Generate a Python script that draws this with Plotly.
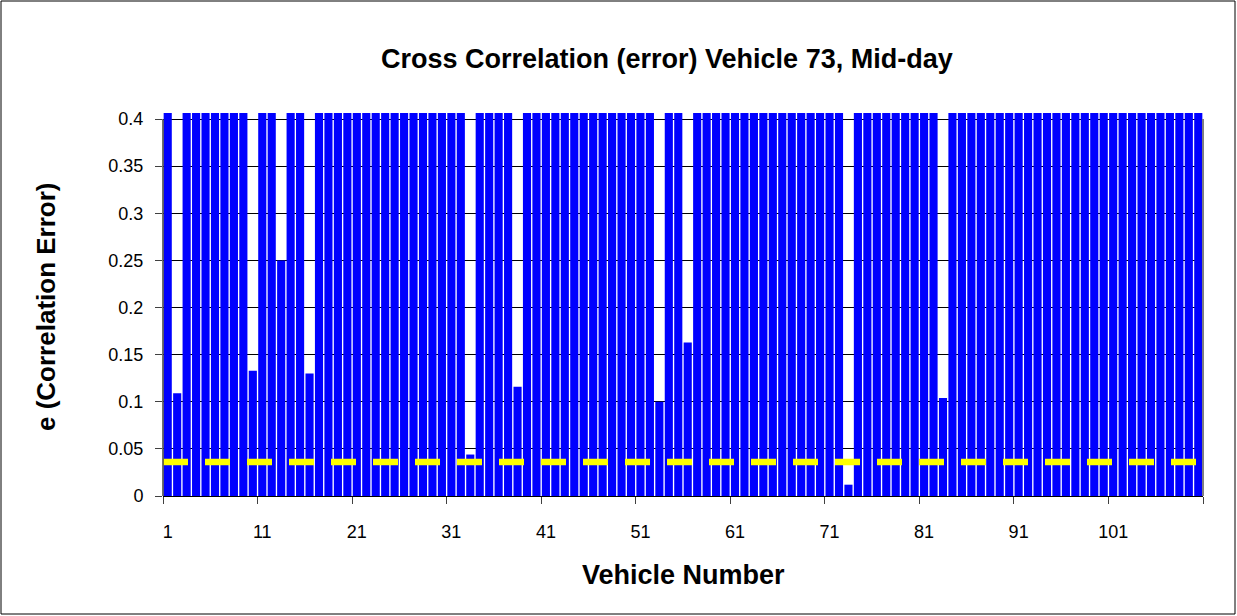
import plotly.graph_objects as go

# ---- data ----
vehicles = list(range(1, 111))
# values above 0.4 run off the top of the chart; 0.41 marks "off scale"
errors = [0.41] * 110
short_bars = {2: 0.109, 10: 0.133, 13: 0.25, 16: 0.13, 33: 0.044, 38: 0.116,
              53: 0.100, 56: 0.163, 73: 0.012, 83: 0.104}
for v, e in short_bars.items():
    errors[v - 1] = e
threshold = 0.036
y_ticks = [0, 0.05, 0.1, 0.15, 0.2, 0.25, 0.3, 0.35, 0.4]
y_ticktext = ["0", "0.05", "0.1", "0.15", "0.2", "0.25", "0.3", "0.35", "0.4"]
x_ticks = list(range(1, 111, 10))

title = "Cross Correlation (error) Vehicle 73, Mid-day"
x_title = "Vehicle Number"
y_title = "e (Correlation Error)"

# ---- layout geometry ----
W, H = 1237, 616
L, R, T, B = 163, 34, 113, 120
PW, PH = W - L - R, H - T - B
FONT = "Arial, Liberation Sans, sans-serif"


def xp(px):
    return (px - L) / PW


def yp(py):
    return (H - B - py) / PH


fig = go.Figure()
fig.add_trace(go.Bar(x=vehicles, y=errors, marker=dict(color="#0000FF", line=dict(width=0)),
                     showlegend=False))
fig.add_trace(go.Scatter(x=[vehicles[0] - 0.5, vehicles[-1] + 0.5], y=[threshold, threshold],
                         mode="lines", line=dict(color="#FFFF00", width=6.5, dash="25px,17px"),
                         showlegend=False))

ymax = 0.4 / 0.9843
fig.update_layout(
    width=W, height=H,
    margin=dict(l=L, r=R, t=T, b=B, pad=0),
    paper_bgcolor="white", plot_bgcolor="white",
    bargap=0.14,
    font=dict(family=FONT, color="black"),
    xaxis=dict(range=[0.5, 110.5], tickmode="array", tickvals=x_ticks,
               ticktext=[str(v) for v in x_ticks], ticks="outside", ticklen=7,
               tickcolor="rgba(0,0,0,0)", ticklabelstandoff=12,
               tickfont=dict(size=18, family=FONT), showgrid=False, zeroline=False,
               showline=True, linecolor="black", linewidth=1),
    xaxis2=dict(range=[0.5, 110.5], overlaying="x", anchor="y", side="bottom",
                tickmode="array", tickvals=[v - 0.5 for v in x_ticks] + [vehicles[-1] + 0.5],
                ticks="outside", ticklen=7, tickcolor="#404040", showticklabels=False,
                showgrid=False, zeroline=False, showline=False),
    yaxis=dict(range=[0, ymax], tickmode="array", tickvals=y_ticks, ticktext=y_ticktext,
               ticks="outside", ticklen=7, tickcolor="#404040", ticklabelstandoff=8,
               tickfont=dict(size=18, family=FONT), showgrid=True, gridcolor="black",
               gridwidth=1, zeroline=False, showline=False),
    shapes=[
        dict(type="line", xref="paper", yref="y", x0=0, x1=0, y0=0, y1=0.4,
             line=dict(color="#404040", width=1.5)),
        dict(type="line", xref="paper", yref="y", x0=1, x1=1, y0=0, y1=0.4,
             line=dict(color="#808080", width=2)),
        dict(type="rect", xref="paper", yref="paper", x0=xp(1), x1=xp(1235),
             y0=yp(614), y1=yp(1), line=dict(color="black", width=1)),
    ],
    annotations=[
        dict(text="<b>" + title + "</b>", xref="paper", yref="paper", x=xp(667), y=yp(59),
             xanchor="center", yanchor="middle", showarrow=False, font=dict(size=27, family=FONT)),
        dict(text="<b>" + x_title + "</b>", xref="paper", yref="paper", x=xp(683), y=yp(575),
             xanchor="center", yanchor="middle", showarrow=False, font=dict(size=27, family=FONT)),
        dict(text="<b>" + y_title + "</b>", xref="paper", yref="paper", x=xp(46), y=yp(307),
             xanchor="center", yanchor="middle", showarrow=False, textangle=-90,
             font=dict(size=26, family=FONT)),
    ],
)
fig.add_trace(go.Scatter(x=[None], y=[None], xaxis="x2", showlegend=False))

fig.write_html("out.html", config={"displayModeBar": False})
with open("out.html", encoding="utf-8") as f:
    html = f.read()
html = html.replace("<head>", "<head><style>html,body{margin:0;padding:0;overflow:hidden}</style>", 1)
with open("out.html", "w", encoding="utf-8") as f:
    f.write(html)
